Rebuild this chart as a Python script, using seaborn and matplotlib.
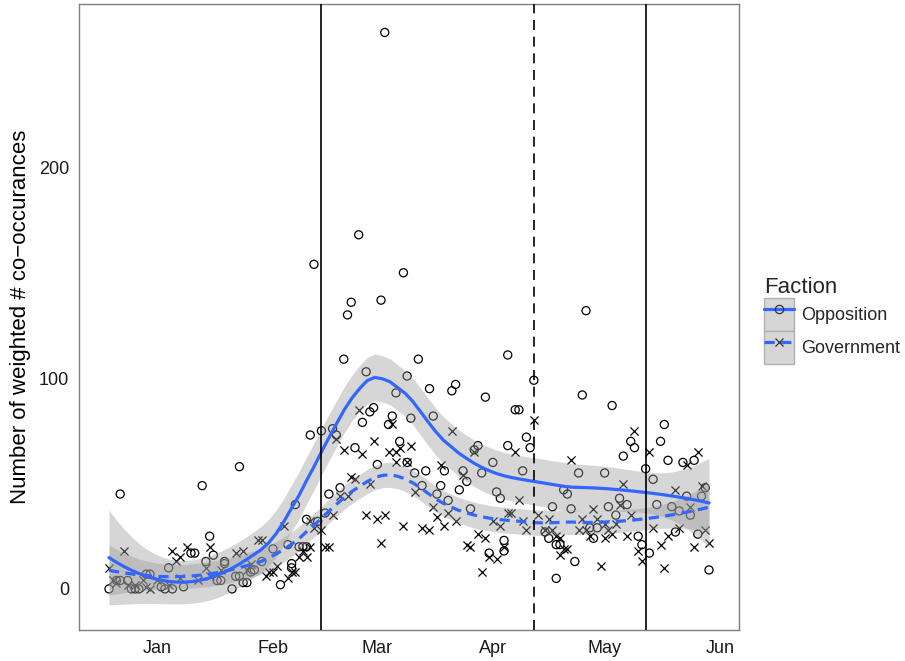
import numpy as np
import pandas as pd
import matplotlib
matplotlib.use("Agg")
import matplotlib.pyplot as plt
import matplotlib.dates as mdates
from matplotlib.lines import Line2D
from matplotlib.patches import Patch
from matplotlib.legend_handler import HandlerTuple
import seaborn as sns

# ---------------- data (days after 2014-01-01, weighted co-occurrences) ----
base_date = "2014-01-01"
opp_day = [-13, -11, -10, -10, -8, -7, -6, -5, -3, -2, 1, 2, 3, 4, 7, 9, 10, 12, 13, 14,
           15, 16, 17, 18, 18, 20, 21, 22, 22, 23, 24, 25, 26, 28, 31, 33, 35, 36, 36, 37,
           38, 39, 40, 40, 41, 42, 43, 44, 45, 46, 47, 48, 49, 50, 51, 52, 53, 54, 55, 56,
           57, 58, 59, 60, 61, 62, 63, 64, 65, 66, 67, 67, 68, 69, 70, 71, 72, 73, 74, 75,
           76, 77, 78, 79, 80, 81, 82, 83, 84, 85, 86, 87, 88, 89, 90, 91, 92, 93, 93, 94,
           94, 96, 97, 98, 99, 100, 101, 104, 105, 106, 107, 107, 108, 109, 110, 111, 112, 113, 114, 115,
           116, 117, 118, 120, 121, 122, 123, 124, 125, 126, 127, 128, 129, 130, 131, 132, 133, 134, 135, 136,
           137, 138, 139, 140, 141, 142, 143, 144, 145, 146, 147, 148]
opp_val = [0, 4, 45, 4, 4, 0, 0, 0, 7, 7, 1, 0, 10, 0, 1, 17, 17, 49, 13, 25,
           16, 4, 4, 13, 12, 0, 6, 6, 58, 3, 3, 8, 9, 13, 19, 2, 21, 10, 12, 40,
           20, 20, 20, 33, 73, 154, 32, 75, 36, 45, 76, 73, 48, 109, 130, 136, 67, 168, 79, 103,
           84, 86, 59, 137, 264, 78, 82, 93, 70, 150, 101, 60, 81, 55, 109, 49, 56, 95, 82, 45,
           49, 56, 42, 94, 97, 47, 56, 51, 38, 66, 68, 55, 91, 17, 60, 46, 43, 18, 23, 111,
           68, 85, 85, 56, 72, 67, 99, 27, 24, 39, 21, 5, 21, 47, 45, 38, 13, 55, 92, 132,
           29, 24, 29, 55, 39, 87, 35, 43, 63, 40, 70, 67, 25, 21, 57, 17, 52, 40, 70, 78,
           61, 39, 27, 37, 60, 44, 35, 61, 26, 44, 48, 9]

gov_day = [-13, -12, -11, -9, -8, -6, -4, -3, -2, 0, 3, 4, 5, 6, 6, 8, 11, 13, 14, 14,
           17, 21, 23, 24, 25, 27, 28, 29, 30, 31, 32, 34, 35, 36, 37, 38, 39, 40, 41, 41,
           42, 44, 45, 46, 47, 48, 49, 50, 51, 52, 53, 54, 55, 56, 57, 58, 59, 60, 61, 62,
           63, 64, 64, 65, 66, 67, 68, 69, 71, 73, 74, 75, 76, 77, 78, 79, 80, 82, 83, 84,
           85, 86, 87, 88, 89, 90, 91, 92, 93, 94, 95, 96, 97, 98, 99, 101, 102, 104, 105, 106,
           107, 108, 108, 109, 110, 111, 113, 114, 115, 116, 117, 118, 119, 120, 120, 121, 122, 123, 124, 125,
           126, 127, 128, 129, 130, 132, 133, 135, 136, 137, 139, 140, 142, 143, 144, 145, 146, 147, 148]
gov_val = [10, 4, 3, 18, 2, 2, 4, 1, 0, 4, 2, 18, 13, 15, 5, 20, 4, 10, 20, 6,
           9, 17, 18, 9, 12, 23, 23, 6, 8, 8, 11, 30, 5, 8, 8, 15, 18, 15, 32, 20,
           29, 28, 20, 20, 35, 71, 44, 66, 44, 53, 52, 85, 64, 35, 50, 70, 33, 22, 35, 65,
           78, 65, 60, 67, 30, 60, 68, 46, 29, 28, 39, 34, 59, 30, 36, 75, 32, 54, 21, 20,
           65, 26, 8, 24, 15, 32, 14, 30, 20, 36, 36, 65, 42, 32, 28, 80, 35, 28, 33, 28,
           25, 24, 16, 19, 19, 61, 28, 33, 28, 25, 38, 33, 11, 31, 24, 28, 26, 31, 40, 50,
           25, 35, 75, 18, 13, 65, 29, 21, 10, 25, 47, 29, 59, 39, 20, 65, 49, 28, 22]

factions = ["Opposition", "Government"]
event_dates = ["2014-02-14", "2014-04-12", "2014-05-12"]
event_styles = ["-", "--", "-"]
y_ticks = [0, 100, 200]
y_limits = [-19.5, 277.5]
y_label = "Number of weighted # co\u2212occurances"
legend_title = "Faction"

# ---------------- helpers ----------------
def loess(x, y, xg, span=0.75):
    x = np.asarray(x, float); y = np.asarray(y, float)
    n = len(x); q = int(np.floor(span * n))

    def row(x0):
        d = np.abs(x - x0)
        h = max(np.sort(d)[q - 1], 1e-9)
        w = np.clip(1 - (d / h) ** 3, 0, None) ** 3
        X = np.vstack([np.ones(n), x - x0, (x - x0) ** 2]).T
        XtW = X.T * w
        return np.linalg.solve(XtW @ X, XtW)[0]

    L = np.array([row(v) for v in x])
    res = y - L @ y
    I = np.eye(n)
    delta1 = np.trace((I - L).T @ (I - L))
    s = np.sqrt(np.sum(res ** 2) / delta1)
    Lg = np.array([row(v) for v in xg])
    fit = Lg @ y
    se = s * np.sqrt(np.sum(Lg ** 2, axis=1))
    t = 1.975
    return fit, fit - t * se, fit + t * se

base = pd.Timestamp(base_date)
df = pd.concat([
    pd.DataFrame({"day": opp_day, "value": opp_val, "Faction": factions[0]}),
    pd.DataFrame({"day": gov_day, "value": gov_val, "Faction": factions[1]}),
], ignore_index=True)
df["date"] = base + pd.to_timedelta(df["day"], unit="D")

# ---------------- figure ----------------
sns.set_style("white")
plt.rcParams["font.family"] = ["Liberation Sans", "DejaVu Sans"]

fig = plt.figure(figsize=(9.05, 6.61), dpi=100)
ax = fig.add_axes([79 / 905, 1 - 630 / 661, (739 - 79) / 905, (630 - 4) / 661])

d_opp = df[df.Faction == factions[0]]
d_gov = df[df.Faction == factions[1]]
sns.scatterplot(data=d_opp, x="date", y="value", marker="o", s=34,
                facecolor="none", edgecolor="black", linewidth=0.9, ax=ax, zorder=2)
sns.scatterplot(data=d_gov, x="date", y="value", marker="x", s=34,
                color="black", linewidth=0.9, ax=ax, zorder=2)

blue = "#3366FF"
dash_styles = {factions[0]: "-", factions[1]: (0, (3.2, 2.0))}
for fac in factions:
    sub = df[df.Faction == fac]
    xg = np.linspace(sub.day.min(), sub.day.max(), 80)
    fit, lo, hi = loess(sub.day.values, sub.value.values, xg, span=0.5)
    gd = base + pd.to_timedelta(xg, unit="D")
    ax.fill_between(gd, lo, hi, color="#999999", alpha=0.4, linewidth=0, zorder=3)
    sns.lineplot(x=gd, y=fit, color=blue, linewidth=2.3, linestyle=dash_styles[fac],
                 ax=ax, zorder=4)

for dstr, ls in zip(event_dates, event_styles):
    ax.axvline(pd.Timestamp(dstr), color="black", linewidth=1.2,
               linestyle=ls if ls == "-" else (0, (6, 4)), zorder=5)

# x limits with ggplot-like 5% expansion
xmin, xmax = df.day.min(), df.day.max()
xr = xmax - xmin
ax.set_xlim(base + pd.Timedelta(days=xmin - 0.05 * xr), base + pd.Timedelta(days=xmax + 0.05 * xr))
ax.set_ylim(*y_limits)

ax.xaxis.set_major_locator(mdates.MonthLocator())
ax.xaxis.set_major_formatter(mdates.DateFormatter("%b"))
ax.set_yticks(y_ticks)
ax.tick_params(axis="both", which="major", direction="out", length=4, width=0.9,
               color="#333333", labelsize=13, labelcolor="#1a1a1a", pad=3)
for sp in ax.spines.values():
    sp.set_color("#7f7f7f"); sp.set_linewidth(1.0); sp.set_visible(True)
ax.set_xlabel("")
ax.set_ylabel(y_label, fontsize=16, color="black", labelpad=6)
ax.grid(False)

# legend
handles = []
for fac, mk in zip(factions, ["o", "x"]):
    bg = Patch(facecolor="#d6d6d6", edgecolor="#b0b0b0", linewidth=1.0)
    ln = Line2D([], [], color=blue, linewidth=2.3, linestyle=dash_styles[fac],
                marker=mk, markersize=6, markerfacecolor="none",
                markeredgecolor="#333333", markeredgewidth=0.9)
    handles.append((bg, ln))
leg = fig.legend(handles, factions, handler_map={tuple: HandlerTuple(ndivide=1, pad=0)},
                 title=legend_title, loc="center left", bbox_to_anchor=(0.836, 0.515),
                 frameon=False, fontsize=13, title_fontsize=16, handlelength=1.7,
                 handleheight=2.4, labelspacing=0.0, handletextpad=0.35,
                 borderaxespad=0, alignment="left")

fig.savefig("out.png", dpi=100)
